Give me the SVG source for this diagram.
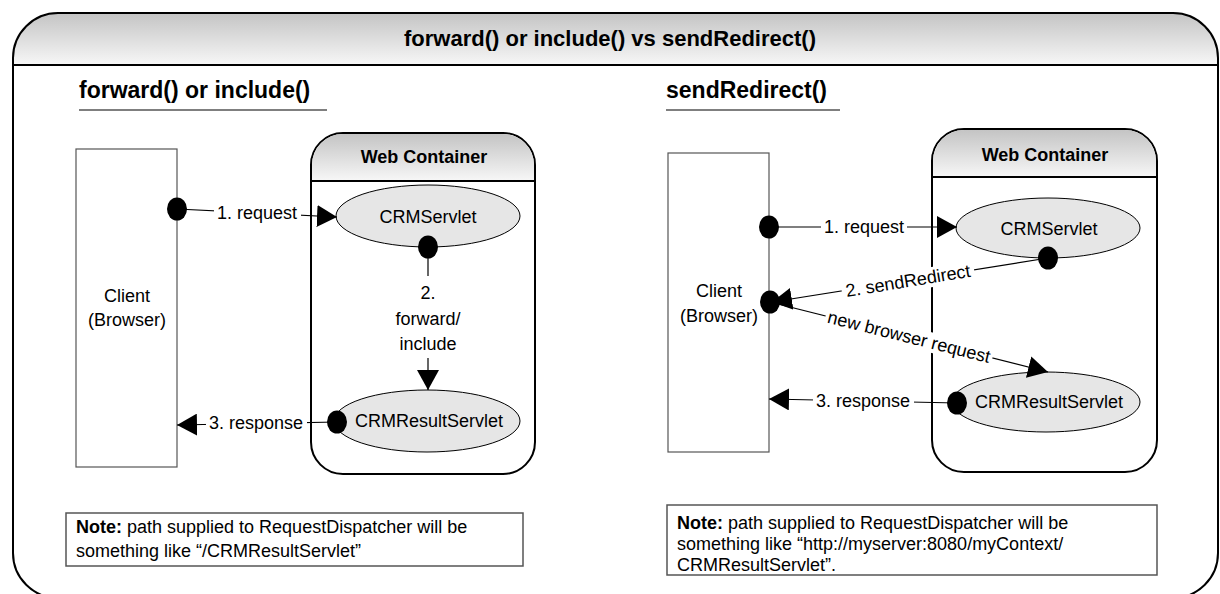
<svg xmlns="http://www.w3.org/2000/svg" width="1220" height="594" viewBox="0 0 1220 594">
<style>
text{font-family:"Liberation Sans",Arial,sans-serif;fill:#000}
.t18{font-size:18px}
.b18{font-size:18px;font-weight:bold}
.mid{text-anchor:middle}
.frame{fill:none;stroke:#000;stroke-width:2}
.wc{fill:#fff;stroke:#000;stroke-width:2}
.hdr{fill:url(#hg);stroke:none}
.client{fill:#fff;stroke:#555;stroke-width:1.2}
.ell{fill:#e6e6e6;stroke:#000;stroke-width:1}
.dot{fill:#000}
.conn{fill:none;stroke:#000;stroke-width:1.2;marker-end:url(#ah)}
.bg{fill:#fff}
.note{fill:#fff;stroke:#555;stroke-width:1.5}
.ul{stroke:#555;stroke-width:1.5}
</style>
<defs>
<linearGradient id="hg" x1="0" y1="0" x2="0" y2="1">
<stop offset="0" stop-color="#c4c4c4"/>
<stop offset="1" stop-color="#f7f7f7"/>
</linearGradient>
<marker id="ah" viewBox="0 0 20 22" refX="20" refY="11" markerWidth="20" markerHeight="22" markerUnits="userSpaceOnUse" orient="auto">
<path d="M0,0 L20,11 L0,22 Z" fill="#000"/>
</marker>
</defs>

<g id="frame">
<path class="hdr" d="M13,65 L13,58 A45,45 0 0 1 58,13 L1173,13 A45,45 0 0 1 1218,58 L1218,65 Z"/>
<path class="frame" d="M58,598 A45,45 0 0 1 13,553 L13,58 A45,45 0 0 1 58,13 L1173,13 A45,45 0 0 1 1218,58 L1218,553 A45,45 0 0 1 1173,598 Z"/>
<line x1="13" y1="65" x2="1218" y2="65" stroke="#000" stroke-width="2"/>
<text x="610" y="46" class="mid" style="font-size:22px;font-weight:bold">forward() or include() vs sendRedirect()</text>
</g>

<g id="heading-left">
<text x="79" y="98" style="font-size:23px;font-weight:bold">forward() or include()</text>
<line class="ul" x1="79" y1="110" x2="327" y2="110"/>
</g>
<g id="heading-right">
<text x="666" y="98" style="font-size:23px;font-weight:bold">sendRedirect()</text>
<line class="ul" x1="666" y1="110" x2="840" y2="110"/>
</g>

<g id="client-left">
<rect class="client" x="76" y="149" width="101" height="318"/>
<text x="127" y="302" class="t18 mid">Client</text>
<text x="127" y="326" class="t18 mid">(Browser)</text>
</g>

<g id="webcontainer-left">
<rect class="wc" x="311" y="133" width="224" height="341" rx="32" ry="32"/>
<path class="hdr" d="M312,181 L312,165 A31,31 0 0 1 343,134 L503,134 A31,31 0 0 1 534,165 L534,181 Z"/>
<line x1="311" y1="181" x2="535" y2="181" stroke="#000" stroke-width="2"/>
<text x="424" y="163" class="b18 mid">Web Container</text>
</g>

<g id="crmservlet-left">
<ellipse class="ell" cx="428" cy="216" rx="92" ry="31"/>
<text x="428" y="223" class="t18 mid">CRMServlet</text>
</g>

<g id="crmresult-left">
<ellipse class="ell" cx="427" cy="421" rx="93" ry="31"/>
<text x="429" y="427" class="t18 mid">CRMResultServlet</text>
</g>

<g id="client-right">
<rect class="client" x="668" y="153" width="101" height="299"/>
<text x="719" y="297" class="t18 mid">Client</text>
<text x="719" y="322" class="t18 mid">(Browser)</text>
</g>

<g id="webcontainer-right">
<rect class="wc" x="932" y="129" width="225" height="343" rx="32" ry="32"/>
<path class="hdr" d="M933,177 L933,161 A31,31 0 0 1 964,130 L1125,130 A31,31 0 0 1 1156,161 L1156,177 Z"/>
<line x1="932" y1="177" x2="1157" y2="177" stroke="#000" stroke-width="2"/>
<text x="1045" y="161" class="b18 mid">Web Container</text>
</g>

<g id="crmservlet-right">
<ellipse class="ell" cx="1048" cy="228" rx="92" ry="30"/>
<text x="1049" y="235" class="t18 mid">CRMServlet</text>
</g>

<g id="crmresult-right">
<ellipse class="ell" cx="1046" cy="402" rx="94" ry="30"/>
<text x="1049" y="408" class="t18 mid">CRMResultServlet</text>
</g>

<g id="connectors">
<!-- left -->
<line class="conn" x1="177" y1="209" x2="337" y2="217"/>
<rect class="bg" x="214" y="203" width="87" height="21"/>
<text x="257" y="219" class="t18 mid">1. request</text>

<line class="conn" x1="428" y1="247" x2="428" y2="390"/>
<rect class="bg" x="393" y="276" width="70" height="82"/>
<text x="428" y="299" class="t18 mid">2.</text>
<text x="428" y="325" class="t18 mid">forward/</text>
<text x="428" y="350" class="t18 mid">include</text>

<line class="conn" x1="337" y1="422" x2="177" y2="425"/>
<rect class="bg" x="206" y="411" width="101" height="23"/>
<text x="256" y="429" class="t18 mid">3. response</text>

<!-- right -->
<line class="conn" x1="769" y1="227" x2="957" y2="227"/>
<rect class="bg" x="821" y="216" width="86" height="22"/>
<text x="864" y="233" class="t18 mid">1. request</text>

<line class="conn" x1="1048" y1="258" x2="772" y2="302"/>
<g transform="translate(908,281) rotate(-9.3)">
<rect class="bg" x="-67" y="-10" width="134" height="20"/>
<text x="0" y="6" class="t18 mid">2. sendRedirect</text>
</g>

<line class="conn" x1="770" y1="302" x2="1048" y2="372"/>
<g transform="translate(909,337) rotate(14)">
<rect class="bg" x="-86" y="-10" width="172" height="20"/>
<text x="0" y="6" class="t18 mid">new browser request</text>
</g>

<line class="conn" x1="957" y1="403" x2="769" y2="399"/>
<rect class="bg" x="813" y="390" width="101" height="22"/>
<text x="863" y="407" class="t18 mid">3. response</text>

<!-- dots -->
<ellipse class="dot" cx="177" cy="209" rx="10" ry="11.5"/>
<ellipse class="dot" cx="428" cy="247" rx="10" ry="11.5"/>
<ellipse class="dot" cx="337" cy="422" rx="10" ry="11.5"/>
<ellipse class="dot" cx="769" cy="227" rx="10" ry="11.5"/>
<ellipse class="dot" cx="1048" cy="258" rx="10" ry="11.5"/>
<ellipse class="dot" cx="770" cy="302" rx="10" ry="11.5"/>
<ellipse class="dot" cx="957" cy="403" rx="10" ry="11.5"/>
</g>

<g id="note-left">
<rect class="note" x="66" y="513" width="457" height="53"/>
<text x="76" y="533" class="t18"><tspan font-weight="bold">Note:</tspan> path supplied to RequestDispatcher will be</text>
<text x="76" y="557" class="t18">something like “/CRMResultServlet”</text>
</g>

<g id="note-right">
<rect class="note" x="667" y="505" width="490" height="70"/>
<text x="677" y="529" class="t18"><tspan font-weight="bold">Note:</tspan> path supplied to RequestDispatcher will be</text>
<text x="677" y="550" class="t18">something like “http://myserver:8080/myContext/</text>
<text x="677" y="571" class="t18">CRMResultServlet”.</text>
</g>
</svg>
